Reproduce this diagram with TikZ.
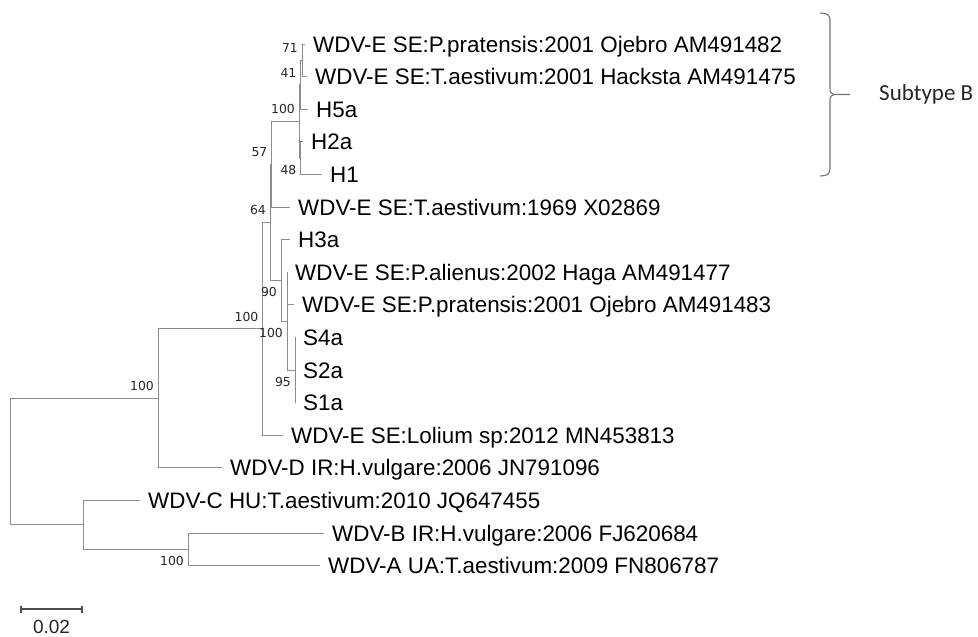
\documentclass[tikz,border=0pt]{standalone}
\usepackage{fontspec}
\setmainfont{Liberation Sans}
\newfontfamily\bootfont{DejaVu Sans}
\newfontfamily\bracefont{Carlito}
\usetikzlibrary{positioning}
\begin{document}
\begin{tikzpicture}[x=1pt,y=-1pt,
 branch/.style={draw=black!45,line width=1pt},
 leaf/.style={inner sep=0pt,text height=16pt,text depth=0pt,font=\fontsize{22.4}{26}\selectfont},
 boot/.style={inner sep=0pt,anchor=east,text height=9pt,text depth=0pt,text=black!85,font=\bootfont\fontsize{12.4}{14}\selectfont},
 sbar/.style={draw=black!70,line width=1.3pt},
 brace/.style={draw=black!55,line width=1.1pt}]
\useasboundingbox (0,0) rectangle (978,637);
\foreach \i/\tx/\lab in {1/305/{WDV-E SE:P.pratensis:2001 Ojebro AM491482},2/307/{WDV-E SE:T.aestivum:2001 Hacksta AM491475},3/308/H5a,4/303/H2a,5/322/H1,6/290/{WDV-E SE:T.aestivum:1969 X02869},7/290/H3a,8/287/{WDV-E SE:P.alienus:2002 Haga AM491477},9/294/{WDV-E SE:P.pratensis:2001 Ojebro AM491483},10/295/S4a,11/295/S2a,12/295/S1a,13/283/{WDV-E SE:Lolium sp:2012 MN453813},14/222/{WDV-D IR:H.vulgare:2006 JN791096},15/140/{WDV-C HU:T.aestivum:2010 JQ647455},16/324/{WDV-B IR:H.vulgare:2006 FJ620684},17/320/{WDV-A UA:T.aestivum:2009 FN806787}}{
 \coordinate (t\i) at (\tx,{44+32.6*(\i-1)});
 \node[leaf,right=8pt of t\i] (l\i) {\lab};
}
\coordinate (n71) at (302,60.3);
\coordinate (n41) at (300.5,84.8);
\coordinate (n48) at (300.5,158.1);
\coordinate (nE) at (299,121.4);
\coordinate (nD) at (271.5,164.2);
\coordinate (nH) at (295,370);
\coordinate (nG) at (287,321.1);
\coordinate (nF) at (281,280.4);
\coordinate (nC) at (270,222.3);
\coordinate (nB) at (262.5,328.7);
\coordinate (nA) at (158,398.3);
\coordinate (nAB) at (188,549.3);
\coordinate (nW) at (83,524.9);
\coordinate (root) at (10,461.6);
\foreach \p/\c in {root/nA,root/nW,nA/nB,nA/t14,nB/nC,nB/t13,nC/nD,nC/nF,nD/nE,nD/t6,nE/n41,nE/n48,n41/n71,n41/t3,n71/t1,n71/t2,n48/t4,n48/t5,nF/t7,nF/nG,nG/t8,nG/t9,nG/nH,nH/t10,nH/t11,nH/t12,nW/t15,nW/nAB,nAB/t16,nAB/t17}{
 \draw[branch] (\p) |- (\c);
}
\foreach \n/\dy/\v in {n71/-12/71,n41/-12/41,nE/-12/100,n48/12/48,nD/-12/57,nC/-12/64,nF/12/90,nG/12/100,nH/12/95,nB/-12/100,nA/-12/100,nAB/12/100}{
 \node[boot] (b\n) at ([shift={(-4,\dy)}]\n) {\v};
}
\draw[brace] (820,13) .. controls (827,13) and (830,15) .. (830,20) -- (830,88) .. controls (830,92) and (831,94.5) .. (834,94.5) -- (850,94.5);
\draw[brace] (834,94.5) .. controls (831,94.5) and (830,97) .. (830,101) -- (830,169) .. controls (830,174) and (827,176) .. (820,176);
\node[font=\bracefont\fontsize{23}{26}\selectfont,anchor=west,inner sep=0pt,text=black!85] (subB) at (879,94.5) {Subtype B};
\draw[sbar] (21,605.5) -- (21,612.5) (21,609) -- (82,609) (82,605.5) -- (82,612.5);
\node[inner sep=0pt,font=\fontsize{19}{22}\selectfont,text=black!85] (sclab) at (51.5,626.5) {0.02};
\end{tikzpicture}
\end{document}
